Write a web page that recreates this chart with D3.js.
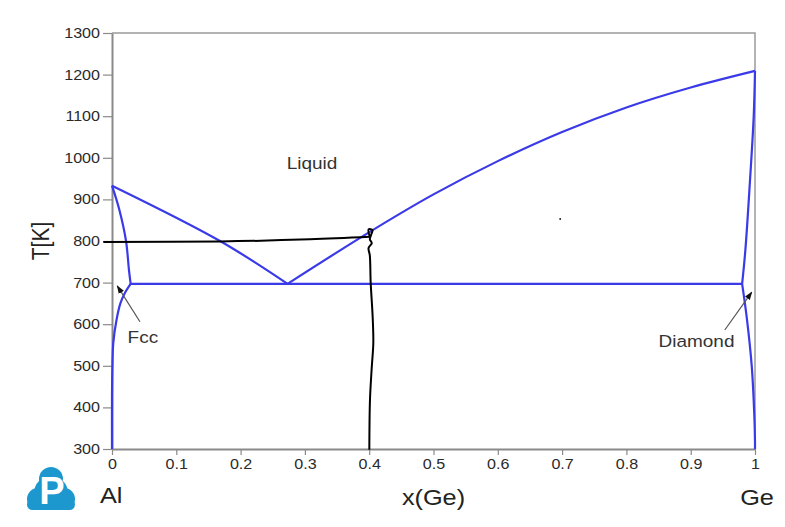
<!DOCTYPE html>
<html><head><meta charset="utf-8">
<script src="https://cdn.jsdelivr.net/npm/d3@7/dist/d3.min.js"></script>
<style>html,body{margin:0;padding:0;background:#fff}svg{display:block}text{font-family:"Liberation Sans",Arial,sans-serif}</style>
</head><body><svg id="c" width="785" height="527"></svg>
<script>
// ---- data ----
const xTicks = [0,0.1,0.2,0.3,0.4,0.5,0.6,0.7,0.8,0.9,1];
const xTickLabels = ["0","0.1","0.2","0.3","0.4","0.5","0.6","0.7","0.8","0.9","1"];
const yTicks = [300,400,500,600,700,800,900,1000,1100,1200,1300];
const yTickLabels = ["300","400","500","600","700","800","900","1000","1100","1200","1300"];
const liquidusAl = [[0,933],[0.168,800],[0.273,697]];
const liquidusGe = [[0.273,697],[0.401,822],[0.5,912],[0.6,992],[0.7,1062],[0.8,1121],[0.9,1169],[1,1209]];
const solidusFcc = [[0,933],[0.0114,875],[0.0218,800],[0.0264,730],[0.029,697]];
const solvusFcc = [[0.029,697],[0.02,675],[0.013,650],[0.007,610],[0.002,555],[0.0005,490],[0,420],[0,300]];
const eutectic = [[0.029,697],[0.98,697]];
const solidusGe = [[1,1209],[0.998,1100],[0.992,940],[0.985,778],[0.98,697]];
const solvusGe = [[0.98,697],[0.987,618],[0.995,498],[0.999,378],[1,318],[1,300]];
// hand-drawn annotation
const penHorizontal = [[-0.0135,797.6],[0.168,798.8],[0.308,804],[0.401,810]];
const penVertical = [[0.401,810],[0.399,828],[0.405,826],[0.403,815],[0.401,804],[0.404,795],[0.399,783],[0.401,765],[0.4023,700],[0.4054,617],[0.4064,555],[0.404,497],[0.4012,418],[0.4002,298]];
const speck = [[0.697,853]];
const labels = [
  {text:"Liquid", x:0.311, T:973},
  {text:"Fcc", x:0.048, T:555},
  {text:"Diamond", x:0.909, T:544}
];
const arrows = [
  {from:[0.0435,606], to:[0.0082,692]},
  {from:[0.953,586], to:[0.995,677]}
];

// ---- chart ----
const svg = d3.select("#c");
const S = 1.15; // horizontal text stretch of the reference
const m = {l:112, r:755, t:33, b:449};
const x = d3.scaleLinear().domain([0,1]).range([m.l, m.r]);
const y = d3.scaleLinear().domain([300,1300]).range([m.b, m.t]);

svg.append("rect").attr("width",785).attr("height",527).attr("fill","#fff");

// frame (top/right)
svg.append("path").attr("d",`M${x(0)},${y(1300)}H${x(1)}V${y(300)}`)
  .attr("fill","none").attr("stroke","#9a9a9a").attr("stroke-width",1.5);

const axisColor = "#8a8a8a";
const gx = svg.append("g").attr("transform",`translate(0,${m.b})`)
  .call(d3.axisBottom(x).tickValues(xTicks).tickFormat((d,i)=>xTickLabels[i]).tickSize(6).tickPadding(4).tickSizeOuter(0));
const gy = svg.append("g").attr("transform",`translate(${m.l},0)`)
  .call(d3.axisLeft(y).tickValues(yTicks).tickFormat((d,i)=>yTickLabels[i]).tickSize(9).tickPadding(3).tickSizeOuter(0));
[gx,gy].forEach(g=>{
  g.select(".domain").attr("stroke",axisColor).attr("stroke-width",2);
  g.selectAll(".tick line").attr("stroke",axisColor).attr("stroke-width",1.2);
  g.selectAll(".tick text").attr("fill","#2a2a2a").attr("font-size",14)
   .attr("font-family",'"Liberation Sans",Arial,sans-serif');
});
gx.selectAll(".tick text").attr("transform",`scale(${S},1)`);
gy.selectAll(".tick text").attr("x",-12/S).attr("transform",`scale(${S},1)`);

// phase boundaries
const line = d3.line().x(d=>x(d[0])).y(d=>y(d[1]));
const smooth = d3.line().x(d=>x(d[0])).y(d=>y(d[1])).curve(d3.curveCatmullRom.alpha(0.5));
const blue = "#3a3ae8";
[liquidusAl, liquidusGe, solidusFcc, solvusFcc, solidusGe, solvusGe].forEach(c=>{
  svg.append("path").attr("d",smooth(c)).attr("fill","none").attr("stroke",blue).attr("stroke-width",2.2);
});
svg.append("path").attr("d",line(eutectic)).attr("fill","none").attr("stroke",blue).attr("stroke-width",2.4);

// hand-drawn black pen
const pen = d3.line().x(d=>x(d[0])).y(d=>y(d[1])).curve(d3.curveCatmullRom.alpha(0.5));
svg.append("path").attr("d",pen(penHorizontal)).attr("fill","none").attr("stroke","#000").attr("stroke-width",2);
svg.append("path").attr("d",pen(penVertical)).attr("fill","none").attr("stroke","#000").attr("stroke-width",2).attr("stroke-linejoin","round");
svg.selectAll(".speck").data(speck).join("circle").attr("cx",d=>x(d[0])).attr("cy",d=>y(d[1])).attr("r",1).attr("fill","#222");

// arrows
const defs = svg.append("defs");
defs.append("marker").attr("id","ah").attr("viewBox","0 0 10 10").attr("refX",9).attr("refY",5)
  .attr("markerWidth",7).attr("markerHeight",7).attr("orient","auto")
  .append("path").attr("d","M0,1.5L10,5L0,8.5Z").attr("fill","#111");
arrows.forEach(a=>{
  svg.append("line").attr("x1",x(a.from[0])).attr("y1",y(a.from[1]))
    .attr("x2",x(a.to[0])).attr("y2",y(a.to[1]))
    .attr("stroke","#555").attr("stroke-width",1.2).attr("marker-end","url(#ah)");
});

// labels
function txt(px,py,str,size,anchor,color){
  return svg.append("text").attr("transform",`translate(${px},${py}) scale(${S},1)`)
    .attr("text-anchor",anchor||"middle").attr("font-size",size).attr("fill",color||"#2a2a2a").text(str);
}
labels.forEach(l=>txt(x(l.x),y(l.T),l.text,16.5,"middle","#333"));

txt(x(0.5),505,"x(Ge)",22,"middle","#222");
txt(x(0)-12,503,"Al",22,"start","#222");
txt(x(1)+2,505,"Ge",22,"middle","#222");
svg.append("text").attr("transform",`translate(49,${y(800)}) rotate(-90) scale(1,${S})`)
  .attr("text-anchor","middle").attr("font-size",21).attr("fill","#222").text("T[K]");

// logo
const logo = svg.append("g").attr("transform","translate(51,491)");
const lc = "#1c98cf";
[[0,-12,12],[-13,8,11],[13,8,11],[0,2,17]].forEach(c=>{
  logo.append("circle").attr("cx",c[0]).attr("cy",c[1]).attr("r",c[2]).attr("fill",lc);
});
logo.append("rect").attr("x",-24).attr("y",8).attr("width",48).attr("height",11).attr("rx",5.5).attr("fill",lc);
logo.append("text").attr("x",1).attr("y",13).attr("text-anchor","middle")
  .attr("font-family",'"Liberation Serif","DejaVu Serif",serif').attr("font-weight","bold")
  .attr("font-size",38).attr("fill","#fff").text("P");
</script></body></html>
